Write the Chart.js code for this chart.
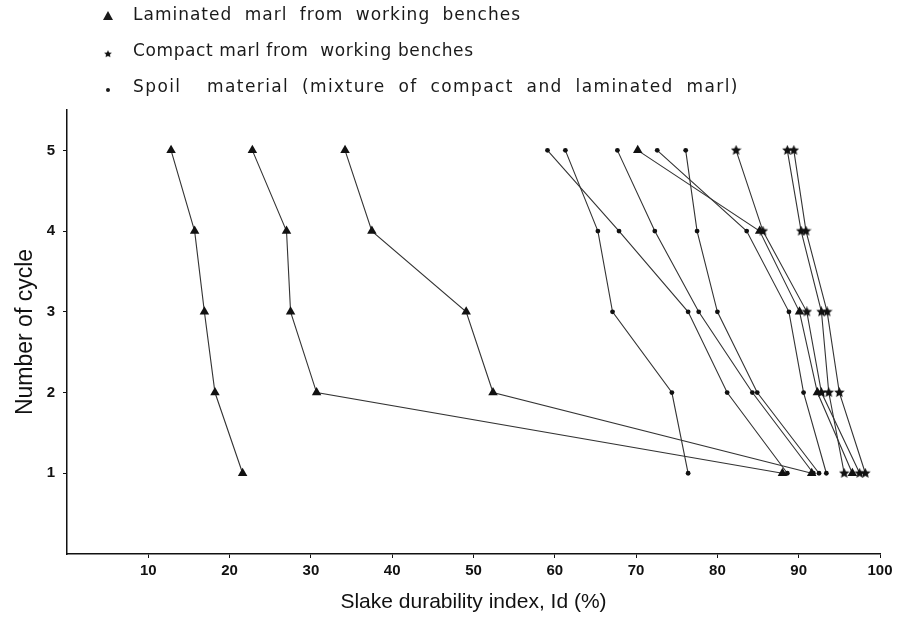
<!DOCTYPE html>
<html>
<head>
<meta charset="utf-8">
<script src="https://cdn.jsdelivr.net/npm/chart.js@4"></script>
<style>
html,body{margin:0;padding:0;background:#fff;}
#wrap{width:901px;height:619px;}
</style>
</head>
<body>
<div id="wrap"><canvas id="slakeChart" width="901" height="619"></canvas></div>
<script>

// DATA (value at cycle 1..5)

const cycles = [1, 2, 3, 4, 5];

const laminatedA = [21.6, 18.2, 16.9, 15.7, 12.8];
const laminatedB = [88.0, 30.7, 27.5, 27.0, 22.8];
const laminatedC = [91.6, 52.4, 49.1, 37.5, 34.2];
const laminatedD = [96.6, 92.3, 90.1, 85.2, 70.2];

const compactA = [97.5, 92.8, 91.0, 85.6, 82.3];
const compactB = [95.6, 93.7, 92.8, 90.3, 88.6];
const compactC = [98.2, 95.0, 93.5, 90.9, 89.4];

const spoilA = [88.6, 81.2, 76.4, 67.9, 59.1];
const spoilB = [76.4, 74.4, 67.1, 65.3, 61.3];
const spoilC = [91.8, 84.3, 77.7, 72.3, 67.7];
const spoilD = [93.4, 90.6, 88.8, 83.6, 72.6];
const spoilE = [92.5, 84.9, 80.0, 77.5, 76.1];

const xTicks = [10, 20, 30, 40, 50, 60, 70, 80, 90, 100];
const yTicks = [1, 2, 3, 4, 5];

const legendLabels = [
"Laminated marl from working benches",
"Compact marl from  working benches",
"Spoil  material (mixture of compact and laminated marl)"
];

// STAR MARKER

function makeStar(size){
let c = document.createElement("canvas");
c.width = size;
c.height = size;
let g = c.getContext("2d");
let r = size/2, r2 = size/4.2;
g.fillStyle = "#111";
g.beginPath();
for(let i=0;i<10;i++){
let a = -Math.PI/2 + i*Math.PI/5;
let rr = (i%2===0) ? r : r2;
g.lineTo(r + rr*Math.cos(a), r + rr*Math.sin(a));
}
g.closePath();
g.fill();
return c;
}

const starImg = makeStar(11);

function pts(vals){
return vals.map((v,i)=>({x:v, y:cycles[i]}));
}

function series(vals, kind){
let d = {
data: pts(vals),
showLine: true,
borderColor: "#333",
borderWidth: 1.1,
pointBackgroundColor: "#111",
pointBorderColor: "#111",
pointBorderWidth: 0
};
if(kind==="lam"){
d.pointStyle = "triangle";
d.pointRadius = 5.5;
}
else if(kind==="comp"){
d.pointStyle = starImg;
d.pointRadius = 5;
}
else{
d.pointStyle = "circle";
d.pointRadius = 2.4;
}
return d;
}

const datasets = [
series(laminatedA,"lam"),
series(laminatedB,"lam"),
series(laminatedC,"lam"),
series(laminatedD,"lam"),
series(compactA,"comp"),
series(compactB,"comp"),
series(compactC,"comp"),
series(spoilA,"spoil"),
series(spoilB,"spoil"),
series(spoilC,"spoil"),
series(spoilD,"spoil"),
series(spoilE,"spoil")
];

// LEGEND DRAWN AT TOP

const topLegend = {
id: "topLegend",
afterDraw(chart){
let ctx = chart.ctx;
ctx.save();
ctx.fillStyle = "#1a1a1a";
ctx.font = "17px 'DejaVu Sans'";
ctx.textBaseline = "middle";
let rows = [16, 52, 88];
let letter = ["1px", "0.6px", "1.4px"];
let word = ["6px", "0px", "6px"];
rows.forEach((y,i)=>{
if(i===0){
ctx.beginPath();
ctx.moveTo(108, y-5);
ctx.lineTo(113, y+4);
ctx.lineTo(103, y+4);
ctx.closePath();
ctx.fill();
}
else if(i===1){
ctx.drawImage(starImg, 104, y-2, 8, 8);
}
else{
ctx.beginPath();
ctx.arc(108, y+2, 2, 0, Math.PI*2);
ctx.fill();
}
ctx.letterSpacing = letter[i];
ctx.wordSpacing = word[i];
ctx.fillText(legendLabels[i], 133, y);
});
ctx.restore();
}
};

new Chart(
document.getElementById("slakeChart"),
{
type: "scatter",
data: { datasets: datasets },
options: {
responsive: false,
animation: false,
layout: { padding: { top: 110, right: 21, left: 8, bottom: 0 } },
plugins: {
legend: { display: false },
tooltip: { enabled: false }
},
scales: {
x: {
type: "linear",
min: 0,
max: 100,
afterBuildTicks(s){ s.ticks = xTicks.map(v=>({value:v})); },
afterFit(s){ s.height = 65; },
border: { color: "#111", width: 1.5 },
grid: { drawOnChartArea: false, tickLength: 4, color: "#111" },
ticks: {
color: "#111",
padding: 4,
font: { family: "'Liberation Sans'", size: 15, weight: "bold" }
},
title: {
display: true,
text: "Slake durability index, Id (%)",
color: "#111",
padding: { top: 4 },
font: { family: "'Liberation Sans'", size: 21 }
}
},
y: {
type: "linear",
min: 0,
max: 5.5,
afterBuildTicks(s){ s.ticks = yTicks.map(v=>({value:v})); },
afterFit(s){ s.width = 59; },
border: { color: "#111", width: 1.5 },
grid: { drawOnChartArea: false, tickLength: 4, color: "#111" },
ticks: {
color: "#111",
padding: 8,
font: { family: "'Liberation Sans'", size: 15, weight: "bold" }
},
title: {
display: true,
text: "Number of cycle",
color: "#111",
padding: { bottom: 0 },
font: { family: "'Liberation Sans'", size: 23 }
}
}
}
},
plugins: [topLegend]
}
);

</script>
</body>
</html>
